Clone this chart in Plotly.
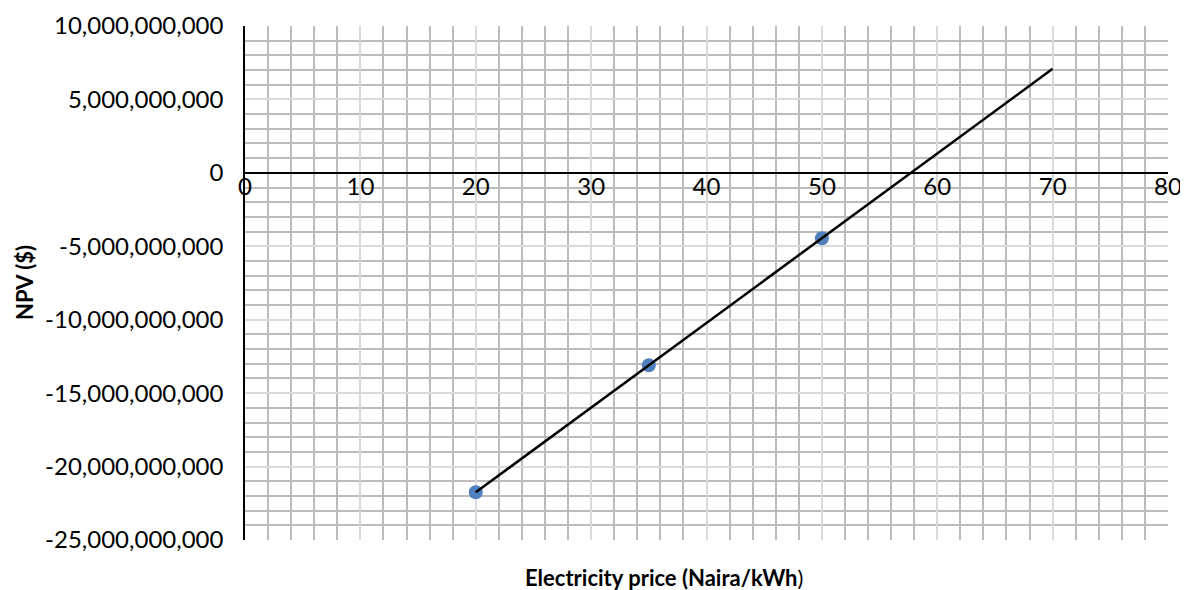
import numpy as np
import plotly.graph_objects as go

price = [20, 35, 50]
npv = [-21.75e9, -13.1e9, -4.45e9]
trend_end = 70

y_ticks = [10e9, 5e9, 0, -5e9, -10e9, -15e9, -20e9, -25e9]
y_tick_text = ["10,000,000,000", "5,000,000,000", "0", "-5,000,000,000",
               "-10,000,000,000", "-15,000,000,000", "-20,000,000,000", "-25,000,000,000"]
x_ticks = [0, 10, 20, 30, 40, 50, 60, 70, 80]

# linear trendline (least squares) forecast forward to 70
slope, intercept = np.polyfit(price, npv, 1)
tx = [price[0], trend_end]
ty = [slope * v + intercept for v in tx]

FONT = "Lato"
ymin, ymax = -25e9, 10e9
MAJOR = "#dadada"
MINOR = "#bcbcbc"

fig = go.Figure()
fig.add_trace(go.Scatter(x=price, y=npv, mode="markers",
                         marker=dict(size=14, color="#4f7fbd"), showlegend=False))
fig.add_trace(go.Scatter(x=tx, y=ty, mode="lines",
                         line=dict(color="black", width=2.5), showlegend=False))

fig.update_layout(
    width=1180, height=582,
    margin=dict(l=237, r=20, t=18, b=50, autoexpand=False),
    plot_bgcolor="white", paper_bgcolor="white",
    font=dict(family=FONT, size=24, color="black"),
    xaxis=dict(range=[0, 80], tickvals=x_ticks, showgrid=True, gridcolor=MAJOR, gridwidth=1.5,
               minor=dict(dtick=2, showgrid=True, gridcolor=MINOR, gridwidth=1.5),
               anchor="free", position=(0 - ymin) / (ymax - ymin), automargin=False,
               showline=True, linecolor="black", linewidth=1.5, zeroline=False,
               ticks="", ticklabelstandoff=-7, tickfont=dict(size=24, family=FONT)),
    yaxis=dict(range=[ymin, ymax], tickvals=y_ticks, ticktext=y_tick_text,
               showgrid=True, gridcolor=MAJOR, gridwidth=1.5, automargin=False,
               minor=dict(dtick=1e9, showgrid=True, gridcolor=MINOR, gridwidth=1.5),
               showline=True, linecolor="black", linewidth=1.5, zeroline=True,
               zerolinecolor="black", zerolinewidth=1.5, ticks="",
               ticklabelstandoff=15, tickfont=dict(size=24, family=FONT)),
)
fig.add_annotation(text="<b>NPV ($)</b>", xref="paper", yref="paper",
                   x=(24 - 245) / 923, y=0.5, textangle=-90, showarrow=False,
                   xanchor="center", yanchor="middle", font=dict(size=22, family=FONT))
fig.add_annotation(text="<b>Electricity price (Naira/kWh</b>)", xref="paper", yref="paper",
                   x=(664 - 245) / 923, y=-37 / 514, showarrow=False, xanchor="center",
                   yanchor="middle", font=dict(size=22, family=FONT))
fig.write_html("out.html")
